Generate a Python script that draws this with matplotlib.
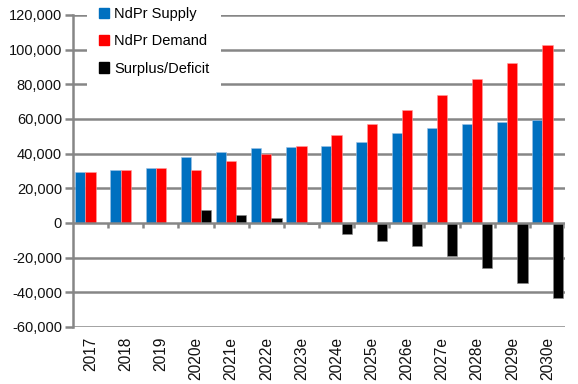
import matplotlib
matplotlib.use("Agg")
import matplotlib.pyplot as plt
import numpy as np
from matplotlib.patches import Patch

plt.rcParams['font.family'] = ['Liberation Sans', 'DejaVu Sans']

categories = ["2017", "2018", "2019", "2020e", "2021e", "2022e", "2023e", "2024e",
              "2025e", "2026e", "2027e", "2028e", "2029e", "2030e"]
supply = [29500, 30500, 31500, 38000, 41000, 43000, 43800, 44200, 47000, 52200, 55000, 57200, 58000, 59300]
demand = [29500, 30500, 31500, 30500, 35800, 39800, 44300, 50500, 57300, 65200, 73800, 83200, 92300, 102500]
surplus = [0, 0, 0, 7500, 4800, 3000, -500, -6300, -10300, -13000, -19300, -25800, -34500, -43500]
yticks = [-60000, -40000, -20000, 0, 20000, 40000, 60000, 80000, 100000, 120000]

GRID = "#868686"
fig = plt.figure(figsize=(5.78, 3.84), dpi=100)
ax = fig.add_axes([73/578, (384-327)/384, (565-73)/578, (327-15)/384])

x = np.arange(len(categories))
w = 0.29
ax.bar(x - w, supply, w, color="#0070C0", edgecolor="#9fc3e6", linewidth=0.4, zorder=3)
ax.bar(x, demand, w, color="#FF0000", edgecolor="#ff9f9f", linewidth=0.4, zorder=3)
ax.bar(x + w, surplus, w, color="#000000", edgecolor="#888888", linewidth=0.4, zorder=3)

ax.set_xlim(-0.5, len(categories) - 0.5)
ax.set_ylim(-60000, 120000)
ax.set_yticks(yticks)
ax.set_yticklabels([f"{v:,}" for v in yticks], fontsize=10.5, color="#111111")
for v in yticks:
    if v != 0:
        ax.axhline(v, color=GRID, linewidth=1.8, zorder=1)
ax.axhline(0, color=GRID, linewidth=1.8, zorder=4)
ax.vlines(np.arange(len(categories)) + 0.5, -2800, 0, color=GRID, linewidth=1.8, zorder=4)

ax.set_xticks(x)
ax.set_xticklabels(categories, rotation=90, fontsize=11.2, color="#111111")
ax.tick_params(axis='x', length=0, pad=7)
ax.tick_params(axis='y', length=6, width=1.8, color=GRID, pad=2)

for s in ["top", "right", "bottom"]:
    ax.spines[s].set_visible(False)
ax.spines["left"].set_color(GRID)
ax.spines["left"].set_linewidth(1.8)
ax.spines["left"].set_zorder(5)

handles = [Patch(color="#0070C0"), Patch(color="#FF0000"), Patch(color="#000000")]
leg = ax.legend(handles, ["NdPr Supply", "NdPr Demand", "Surplus/Deficit"],
                loc="upper left", bbox_to_anchor=(0.029, 1.062), frameon=True,
                fontsize=10.5, handlelength=0.7, handleheight=0.7, handletextpad=0.35,
                labelspacing=0.9, borderpad=0.8, borderaxespad=0)
leg.get_frame().set_edgecolor("white")
leg.get_frame().set_facecolor("white")
leg.get_frame().set_alpha(1)
leg.get_frame().set_boxstyle("square", pad=0)
leg.get_frame().set_linewidth(0)
leg.set_zorder(10)

fig.savefig("out.png", dpi=100)
